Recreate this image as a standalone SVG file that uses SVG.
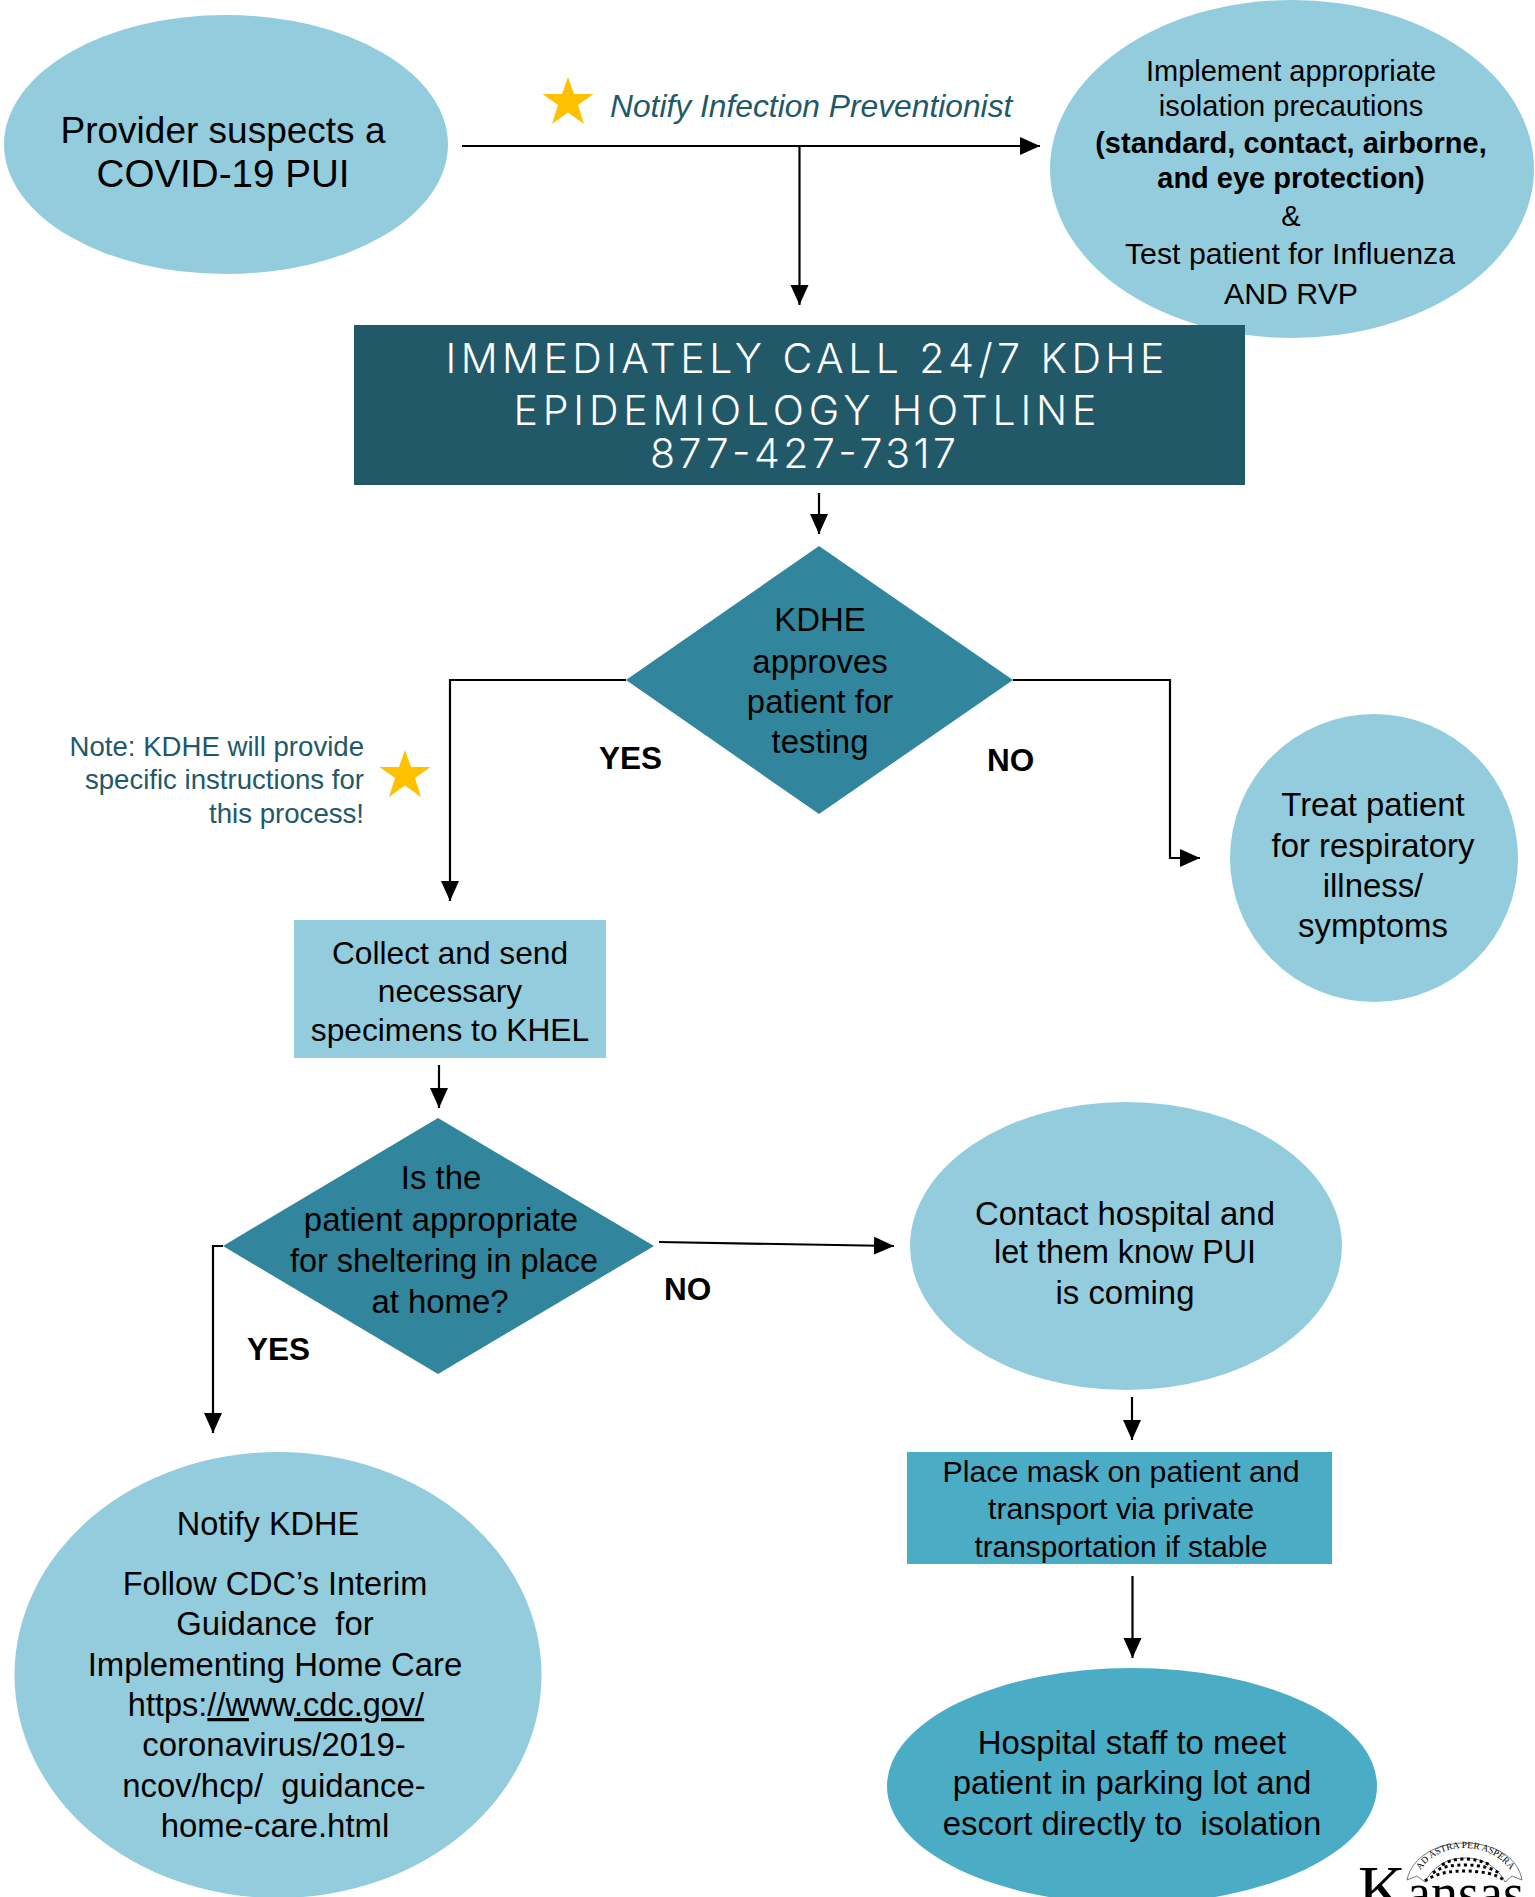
<svg xmlns="http://www.w3.org/2000/svg" width="1535" height="1897" viewBox="0 0 1535 1897">
<style>
text{font-family:"Liberation Sans",Arial,sans-serif;fill:#000;text-anchor:middle}
.s29{font-size:29px}.s30{font-size:30.300px}.s32{font-size:32.500px}.s33{font-size:32.900px}.s37{font-size:37px}
.b{font-weight:700}
.lab{font-size:31.500px;font-weight:700;text-anchor:start}
.head{font-family:Inter,"Liberation Sans",sans-serif;font-weight:300;font-size:41px;fill:#fff}
.note{font-size:27.600px;fill:#215968;text-anchor:end}
.light{fill:#93cddd}.teal{fill:#31859c}.mid{fill:#4bacc6}.dark{fill:#215968}.star{fill:#ffc000}
.c{fill:none;stroke:#000;stroke-width:2.2}
.u{text-decoration:underline}
.logo{font-family:"Liberation Serif",serif;text-anchor:start}
</style>
<defs>
<marker id="ah" markerUnits="userSpaceOnUse" markerWidth="20" markerHeight="20" refX="20" refY="10" orient="auto"><path d="M0 1L20 10L0 19Z" fill="#000"/></marker>
<polygon id="st" points="0,-25 6,-8 25.500,-8 10,3 16,22 0,10.500 -16,22 -10,3 -25.500,-8 -6,-8" class="star"/>
</defs>
<rect width="1535" height="1897" fill="#fff"/>
<g id="connectors">
<path class="c" marker-end="url(#ah)" d="M462 146H1040"/>
<path class="c" marker-end="url(#ah)" d="M799.500 146V305"/>
<path class="c" marker-end="url(#ah)" d="M819 493V534"/>
<path class="c" marker-end="url(#ah)" d="M626 680H450V901"/>
<path class="c" marker-end="url(#ah)" d="M1013 680H1170V858H1200"/>
<path class="c" marker-end="url(#ah)" d="M439 1065V1108"/>
<path class="c" marker-end="url(#ah)" d="M223 1246H213V1433"/>
<path class="c" marker-end="url(#ah)" d="M659 1242L894 1246"/>
<path class="c" marker-end="url(#ah)" d="M1132 1397V1440"/>
<path class="c" marker-end="url(#ah)" d="M1132.500 1576V1658"/>
</g>
<g id="n-suspect"><ellipse class="light" cx="226" cy="144.500" rx="222" ry="129.500"/>
<text class="s37" x="223" y="143">Provider suspects a</text><text x="223" y="187" style="font-size:38.600px">COVID-19 PUI</text></g>
<g id="n-notify-ip"><use href="#st" x="568" y="102"/>
<text x="610" y="117" style="font-size:31.750px;font-style:italic;fill:#215968;text-anchor:start">Notify Infection Preventionist</text></g>
<g id="n-isolation"><ellipse class="light" cx="1292" cy="169" rx="242" ry="169"/>
<text class="s29" x="1291" y="81">Implement appropriate</text>
<text class="s29" x="1291" y="116">isolation precautions</text>
<text class="s29 b" x="1291" y="153">(standard, contact, airborne,</text>
<text class="s29 b" x="1291" y="188">and eye protection)</text>
<text class="s29" x="1291" y="226">&amp;</text>
<text class="s30" x="1290" y="264">Test patient for Influenza</text>
<text class="s30" x="1291" y="304">AND RVP</text></g>
<g id="n-hotline"><rect class="dark" x="354" y="325" width="891" height="160"/>
<text class="head" x="805" y="373" textLength="719">IMMEDIATELY CALL 24/7 KDHE</text>
<text class="head" x="805" y="425" textLength="583">EPIDEMIOLOGY HOTLINE</text>
<text class="head" x="803" y="468" textLength="306">877-427-7317</text></g>
<g id="n-approve"><polygon class="teal" points="819,546 1013,680 819,814 626,680"/>
<text class="s33" x="820" y="631">KDHE</text><text class="s33" x="820" y="673">approves</text>
<text class="s33" x="820" y="713">patient for</text><text class="s33" x="820" y="753">testing</text></g>
<g id="l-yes1"><text class="lab" x="599" y="769">YES</text></g>
<g id="l-no1"><text class="lab" x="987" y="771">NO</text></g>
<g id="n-note"><text class="note" x="364" y="756">Note: KDHE will provide</text>
<text class="note" x="364" y="789">specific instructions for</text>
<text class="note" x="364" y="823">this process!</text>
<use href="#st" x="405" y="775"/></g>
<g id="n-treat"><circle class="light" cx="1374" cy="858" r="144"/>
<text class="s33" x="1373" y="816">Treat patient</text><text class="s33" x="1373" y="857">for respiratory</text>
<text class="s33" x="1373" y="897">illness/</text><text class="s33" x="1373" y="937">symptoms</text></g>
<g id="n-collect"><rect class="light" x="294" y="920" width="312" height="138"/>
<text x="450" y="964" style="font-size:31.700px">Collect and send</text><text x="450" y="1002" style="font-size:31.700px">necessary</text>
<text x="450" y="1041" style="font-size:31.700px">specimens to KHEL</text></g>
<g id="n-shelter"><polygon class="teal" points="438,1118 654,1246 438,1374 223,1246"/>
<text class="s33" x="441" y="1189">Is the</text><text class="s33" x="441" y="1231">patient appropriate</text>
<text x="444" y="1272" style="font-size:32.400px">for sheltering in place</text><text class="s33" x="440" y="1313">at home?</text></g>
<g id="l-yes2"><text class="lab" x="247" y="1360">YES</text></g>
<g id="l-no2"><text class="lab" x="664" y="1300">NO</text></g>
<g id="n-contact"><ellipse class="light" cx="1126" cy="1246" rx="216" ry="144"/>
<text class="s33" x="1125" y="1225">Contact hospital and</text><text x="1125" y="1263" style="font-size:32.300px">let them know PUI</text>
<text class="s33" x="1125" y="1304">is coming</text></g>
<g id="n-mask"><rect class="mid" x="907" y="1452" width="425" height="112"/>
<text class="s30" x="1121" y="1482">Place mask on patient and</text><text class="s30" x="1121" y="1519">transport via private</text>
<text x="1121" y="1557" style="font-size:29.800px">transportation if stable</text></g>
<g id="n-home"><ellipse class="light" cx="278" cy="1675" rx="263.500" ry="223"/>
<text class="s32" x="268" y="1535">Notify KDHE</text>
<text class="s32" x="275" y="1595">Follow CDC’s Interim</text>
<text class="s33" x="275" y="1635" xml:space="preserve">Guidance  for</text>
<text class="s33" x="275" y="1676">Implementing Home Care</text>
<text class="s32" x="276" y="1716">https:<tspan class="u">//w</tspan>ww<tspan class="u">.cdc.gov/</tspan></text>
<text class="s33" x="274" y="1756">coronavirus/2019-</text>
<text class="s33" x="274" y="1797" xml:space="preserve">ncov/hcp/  guidance-</text>
<text class="s33" x="275" y="1837">home-care.html</text></g>
<g id="n-hospital"><ellipse class="mid" cx="1132" cy="1786" rx="245" ry="118"/>
<text class="s33" x="1132" y="1754">Hospital staff to meet</text><text class="s33" x="1132" y="1794">patient in parking lot and</text>
<text class="s33" x="1132" y="1835" xml:space="preserve">escort directly to  isolation</text></g>
<g id="logo">
<path d="M1407 1880C1412 1856 1438 1843 1465 1843C1492 1843 1518 1856 1522 1880L1512 1876L1505 1882C1498 1868 1484 1858 1465 1858C1446 1858 1432 1868 1425 1882L1417 1876Z" fill="#fff" stroke="#555" stroke-width=".8"/>
<path id="logoarc" d="M1419 1873C1428 1856 1446 1848 1465 1848C1484 1848 1502 1856 1512 1873" fill="none"/>
<text class="logo" style="font-size:9.500px;text-anchor:middle"><textPath href="#logoarc" startOffset="50%">AD ASTRA PER ASPERA</textPath></text>
<path d="M1442 1865C1450 1860 1457 1859 1465 1859C1474 1859 1482 1861 1490 1865" fill="none" stroke="#000" stroke-width="3" stroke-dasharray="3 3.500"/>
<path d="M1433 1873C1442 1866 1453 1865 1465 1865C1478 1865 1490 1867 1499 1873" fill="none" stroke="#000" stroke-width="3" stroke-dasharray="3 3.500"/>
<path d="M1425 1881C1436 1873 1450 1871 1465 1871C1482 1871 1497 1874 1505 1881" fill="none" stroke="#000" stroke-width="3" stroke-dasharray="3 3.500"/>
<text class="logo" y="1911"><tspan x="1358" style="font-size:66px">K</tspan><tspan x="1407" style="font-size:54px">ansas</tspan></text>
</g>
</svg>
